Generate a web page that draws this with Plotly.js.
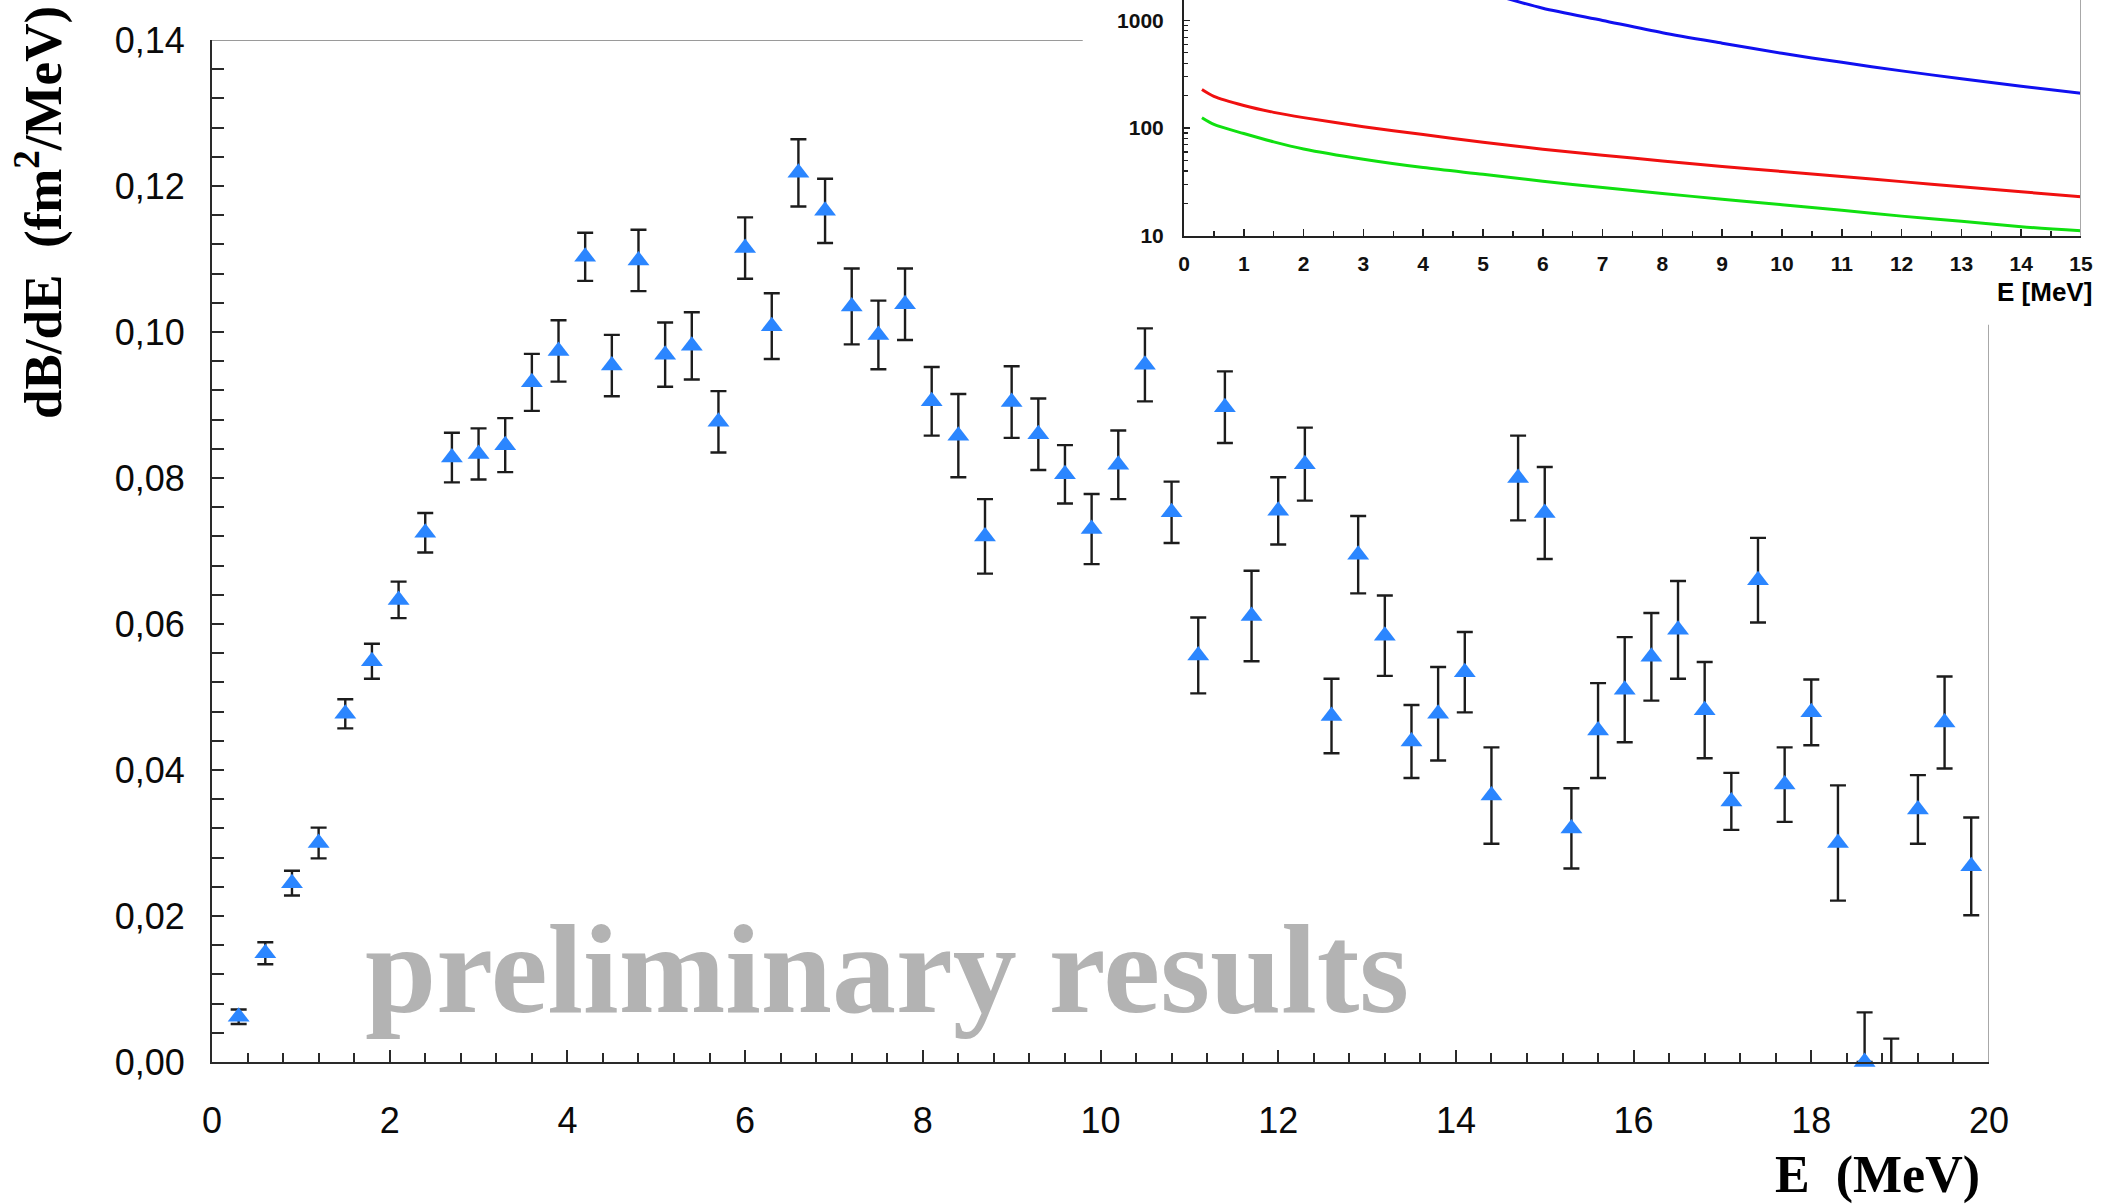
<!DOCTYPE html>
<html>
<head>
<meta charset="utf-8">
<script src="https://cdn.plot.ly/plotly-3.0.1.min.js"></script>
<style>html,body{margin:0;padding:0;background:#fff;}#chart{width:2116px;height:1204px;}</style>
</head>
<body>
<div id="chart"></div>
<script>
// ---- main data: dB/dE (fm^2/MeV) vs E (MeV) ----
const energy = [0.3,0.6,0.9,1.2,1.5,1.8,2.1,2.4,2.7,3.0,3.3,3.6,3.9,4.2,4.5,4.8,5.1,5.4,5.7,6.0,
  6.3,6.6,6.9,7.2,7.5,7.8,8.1,8.4,8.7,9.0,9.3,9.6,9.9,10.2,10.5,10.8,11.1,11.4,11.7,12.0,
  12.3,12.6,12.9,13.2,13.5,13.8,14.1,14.4,14.7,15.0,15.3,15.6,15.9,16.2,16.5,16.8,17.1,17.4,17.7,18.0,
  18.3,18.6,18.9,19.2,19.5,19.8];
const dBdE = [0.0062,0.0149,0.0245,0.0300,0.0477,0.0549,0.0633,0.0725,0.0828,0.0833,0.0845,0.0931,0.0974,0.1103,0.0954,0.1098,0.0969,0.0981,0.0877,0.1115,
  0.1008,0.1218,0.1166,0.1035,0.0996,0.1038,0.0905,0.0858,0.0720,0.0904,0.0860,0.0805,0.0730,0.0818,0.0955,0.0753,0.0557,0.0897,0.0611,0.0755,
  0.0819,0.0474,0.0695,0.0584,0.0439,0.0477,0.0534,0.0365,0.0800,0.0752,0.0320,0.0454,0.0510,0.0555,0.0592,0.0482,0.0357,0.0660,0.0380,0.0479,
  0.0300,0.0000,0.0009,0.0346,0.0465,0.0268];
const errUp = [0.0010,0.0015,0.0017,0.0021,0.0020,0.0024,0.0025,0.0027,0.0034,0.0035,0.0037,0.0039,0.0042,0.0033,0.0042,0.0042,0.0044,0.0046,0.0042,0.0042,
  0.0045,0.0046,0.0044,0.0052,0.0047,0.0049,0.0047,0.0057,0.0051,0.0049,0.0049,0.0040,0.0048,0.0047,0.0050,0.0042,0.0052,0.0049,0.0062,0.0046,
  0.0050,0.0051,0.0053,0.0055,0.0050,0.0064,0.0055,0.0066,0.0058,0.0063,0.0055,0.0065,0.0072,0.0060,0.0067,0.0066,0.0039,0.0058,0.0051,0.0045,
  0.0079,0.0068,0.0023,0.0047,0.0063,0.0067];
const errDown = [0.0010,0.0015,0.0017,0.0021,0.0020,0.0024,0.0025,0.0027,0.0034,0.0035,0.0037,0.0039,0.0042,0.0033,0.0042,0.0042,0.0044,0.0046,0.0042,0.0042,
  0.0045,0.0046,0.0044,0.0052,0.0047,0.0049,0.0047,0.0057,0.0051,0.0049,0.0049,0.0040,0.0048,0.0047,0.0050,0.0042,0.0052,0.0049,0.0062,0.0046,
  0.0050,0.0051,0.0053,0.0055,0.0050,0.0064,0.0055,0.0066,0.0058,0.0063,0.0055,0.0065,0.0072,0.0060,0.0067,0.0066,0.0039,0.0058,0.0051,0.0045,
  0.0079,0.0000,0.0023,0.0047,0.0063,0.0067];
const noMarkerE = [18.9];   // point drawn with its error bar only

// ---- inset data (log scale) ----
const curveE = [0.3,0.5,1,1.5,2,3,4,5,6,7,8,9,10,11,12,13,14,15];
const redCurve = [228,197,162,140,125,103,87,74,63.5,56,49.5,44,39.5,35.5,31.8,28.5,25.6,23];
const greenCurve = [124.5,108,89,74.5,64,51.4,43,37.2,32.1,28,24.7,21.8,19.4,17.2,15.2,13.6,12.1,11.1];
const blueE = [5.4,6,7,8,9,10,11,12,13,14,15];
const blueCurve = [1600,1300,1000,770,615,495,408,340,287,245,211];

const yTickVals = [0,0.02,0.04,0.06,0.08,0.10,0.12,0.14];
const xTickVals = [0,2,4,6,8,10,12,14,16,18,20];

const W = 2116, H = 1204;
const px = v => v / W;
const py = v => (H - v) / H;

const mainTrace = {
  type: 'scatter', mode: 'markers', x: energy, y: dBdE,
  xaxis: 'x', yaxis: 'y', cliponaxis: false,
  marker: { symbol: 'triangle-up', size: 19, color: '#2b86ff',
            opacity: energy.map(e => noMarkerE.includes(e) ? 0 : 1), line: {width: 0} },
  error_y: { type: 'data', symmetric: false, array: errUp, arrayminus: errDown,
             color: '#1c1c1c', thickness: 2.4, width: 8 },
  showlegend: false, hoverinfo: 'x+y'
};
const blueTrace = { type:'scatter', mode:'lines', x: blueE, y: blueCurve, xaxis:'x2', yaxis:'y2',
  line:{color:'#1010f0', width:3, shape:'spline', smoothing: 0.8}, showlegend:false };
const redTrace = { type:'scatter', mode:'lines', x: curveE, y: redCurve, xaxis:'x2', yaxis:'y2',
  line:{color:'#f01010', width:3, shape:'spline', smoothing: 0.8}, showlegend:false };
const greenTrace = { type:'scatter', mode:'lines', x: curveE, y: greenCurve, xaxis:'x2', yaxis:'y2',
  line:{color:'#10e010', width:3, shape:'spline', smoothing: 0.8}, showlegend:false };

const tickFont = { family: 'Liberation Sans, Arial, sans-serif', size: 36, color: '#0a0a0a' };
const insetFont = { family: 'Liberation Sans Narrow, Arial Narrow, Liberation Sans, Arial, sans-serif', size: 21, color: '#111', weight: 'bold' };

const layout = {
  width: W, height: H,
  margin: { l: 0, r: 0, t: 0, b: 0, pad: 0 },
  paper_bgcolor: '#ffffff', plot_bgcolor: 'rgba(0,0,0,0)',
  separators: ',.',
  font: { family: 'Liberation Sans, Arial, sans-serif' },
  xaxis: {
    domain: [px(212), px(1989)], range: [0, 20], anchor: 'y',
    showgrid: false, zeroline: false, showline: true, linecolor: '#2a2a2a', linewidth: 2,
    tickmode: 'array', tickvals: xTickVals, ticks: 'inside', ticklen: 12, tickwidth: 2, tickcolor: '#2a2a2a',
    minor: { dtick: 0.4, tick0: 0, ticks: 'inside', ticklen: 9, tickwidth: 2, tickcolor: '#2a2a2a', showgrid: false },
    tickfont: tickFont, ticklabelstandoff: 26
  },
  yaxis: {
    domain: [py(1062), py(40)], range: [0, 0.14], anchor: 'x',
    showgrid: false, zeroline: false, showline: true, linecolor: '#2a2a2a', linewidth: 2,
    tickmode: 'array', tickvals: yTickVals, tickformat: '.2f', ticks: 'inside', ticklen: 12, tickwidth: 2, tickcolor: '#2a2a2a',
    minor: { dtick: 0.004, tick0: 0, ticks: 'inside', ticklen: 12, tickwidth: 2, tickcolor: '#2a2a2a', showgrid: false },
    tickfont: tickFont, ticklabelstandoff: 18
  },
  xaxis2: {
    domain: [px(1184), px(2081)], range: [0, 15], anchor: 'y2',
    showgrid: false, zeroline: false, showline: true, linecolor: '#222', linewidth: 2,
    dtick: 1, tick0: 0, ticks: 'inside', ticklen: 7, tickwidth: 1.5, tickcolor: '#222',
    minor: { dtick: 0.5, tick0: 0, ticks: 'inside', ticklen: 5, tickwidth: 1.5, tickcolor: '#222', showgrid: false },
    tickfont: insetFont, ticklabelstandoff: 8
  },
  yaxis2: {
    type: 'log', domain: [py(235.7), 1], range: [1, 3.19], anchor: 'x2',
    showgrid: false, zeroline: false, showline: true, linecolor: '#222', linewidth: 2,
    dtick: 1, tick0: 0, exponentformat: 'none', ticks: 'inside', ticklen: 6, tickwidth: 1.5, tickcolor: '#222',
    minor: { dtick: 'D1', ticks: 'inside', ticklen: 4, tickwidth: 1.2, tickcolor: '#222', showgrid: false },
    tickfont: insetFont, ticklabelstandoff: 14
  },
  shapes: [
    { type: 'line', xref: 'x', yref: 'y', x0: 0, x1: 9.8, y0: 0.14, y1: 0.14, line: { color: '#9a9a9a', width: 2 } },
    { type: 'line', xref: 'x', yref: 'y', x0: 20, x1: 20, y0: 0, y1: 0.101, line: { color: '#a8a8a8', width: 2 } },
    { type: 'line', xref: 'x2', yref: 'paper', x0: 15, x1: 15, y0: py(235.7), y1: 1, line: { color: '#a8a8a8', width: 2 } }
  ],
  annotations: [
    { text: 'preliminary results', xref: 'paper', yref: 'paper', x: px(887), y: py(969),
      xanchor: 'center', yanchor: 'middle', showarrow: false,
      font: { family: 'Liberation Serif, Times New Roman, serif', size: 128, color: '#b3b3b3', weight: 'bold' } },
    { text: 'dB/dE\u00A0\u00A0(fm<sup>2</sup>/MeV)', xref: 'paper', yref: 'paper', x: px(40), y: py(213),
      xanchor: 'center', yanchor: 'middle', textangle: -90, showarrow: false,
      font: { family: 'Liberation Serif, Times New Roman, serif', size: 53, color: '#000', weight: 'bold' } },
    { text: 'E\u00A0\u00A0(MeV)', xref: 'paper', yref: 'paper', x: px(1982), y: py(1175),
      xanchor: 'right', yanchor: 'middle', showarrow: false,
      font: { family: 'Liberation Serif, Times New Roman, serif', size: 52, color: '#000', weight: 'bold' } },
    { text: 'E [MeV]', xref: 'paper', yref: 'paper', x: px(2094), y: py(292),
      xanchor: 'right', yanchor: 'middle', showarrow: false,
      font: { family: 'Liberation Sans Narrow, Arial Narrow, Liberation Sans, Arial, sans-serif', size: 26, color: '#000', weight: 'bold' } }
  ]
};

Plotly.newPlot('chart', [mainTrace, blueTrace, redTrace, greenTrace], layout, { staticPlot: true, displayModeBar: false });
</script>
</body>
</html>
